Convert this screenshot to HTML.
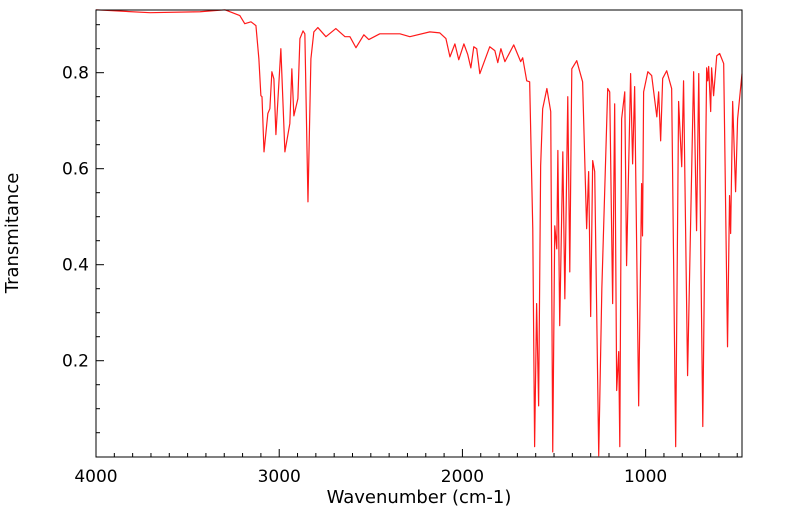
<!DOCTYPE html>
<html><head><meta charset="utf-8"><style>
body{margin:0;background:#fff;}
svg{display:block;font-family:"DejaVu Sans","Liberation Sans",sans-serif;}
</style></head><body>
<svg id="chart" width="799" height="516">
<rect x="0" y="0" width="799" height="516" fill="#fff"/>
<g id="ticks"></g>
<path id="series" fill="none" stroke="#ff1a1a" stroke-width="1.2" stroke-linejoin="round"/>
<rect x="96" y="10" width="646" height="447" fill="none" stroke="#000" stroke-width="1"/>
<text x="18" y="233" font-size="18" text-anchor="middle" transform="rotate(-90 18 233)">Transmitance</text>
<text x="419" y="503" font-size="18" text-anchor="middle">Wavenumber (cm-1)</text>
</svg>
<script>
const wavenumbers=[4000,3705,3432,3296,3215,3188,3154,3127,3111,3100,3094,3083,3062,3051,3040,3029,3018,2991,2969,2942,2931,2920,2898,2887,2870,2860,2843,2827,2811,2789,2745,2691,2641,2614,2581,2538,2511,2451,2341,2287,2178,2124,2090,2068,2041,2020,1992,1971,1954,1938,1922,1905,1851,1823,1807,1790,1768,1720,1682,1671,1649,1633,1616,1606,1595,1584,1573,1562,1539,1518,1507,1496,1485,1479,1469,1452,1441,1425,1414,1403,1376,1344,1322,1311,1300,1289,1278,1256,1239,1207,1196,1180,1169,1158,1147,1141,1131,1114,1104,1082,1071,1060,1038,1022,1017,1011,988,967,939,929,918,907,885,858,836,820,803,793,771,738,722,710,688,667,661,656,645,640,629,612,596,574,553,542,536,525,509,498,474];
const transmittance=[0.931,0.925,0.927,0.931,0.919,0.902,0.906,0.898,0.829,0.752,0.75,0.635,0.715,0.725,0.802,0.787,0.671,0.85,0.635,0.694,0.808,0.71,0.746,0.871,0.887,0.881,0.531,0.829,0.885,0.894,0.875,0.892,0.875,0.875,0.852,0.879,0.869,0.881,0.881,0.875,0.885,0.883,0.871,0.833,0.86,0.827,0.86,0.838,0.81,0.854,0.85,0.798,0.854,0.846,0.821,0.85,0.823,0.858,0.823,0.831,0.783,0.781,0.475,0.021,0.319,0.106,0.606,0.725,0.767,0.719,0.010,0.481,0.433,0.638,0.273,0.635,0.329,0.75,0.385,0.808,0.825,0.781,0.475,0.594,0.292,0.617,0.594,0.002,0.35,0.767,0.76,0.319,0.735,0.138,0.219,0.021,0.704,0.76,0.398,0.798,0.61,0.771,0.106,0.569,0.46,0.76,0.802,0.794,0.708,0.76,0.658,0.788,0.804,0.767,0.021,0.74,0.604,0.783,0.169,0.802,0.471,0.798,0.063,0.81,0.783,0.813,0.719,0.81,0.752,0.835,0.84,0.819,0.229,0.544,0.465,0.74,0.552,0.704,0.798];
const xTickLabels=[4000,3000,2000,1000];
const yTickLabels=[0.2,0.4,0.6,0.8];
const X0=96,X1=742,Y0=10,Y1=457;
const WMAX=4000,WMIN=474,TMIN=-0.0006,TMAX=0.9306;
function xs(w){return X0+(WMAX-w)/(WMAX-WMIN)*(X1-X0);}
function ys(t){return Y1-(t-TMIN)/(TMAX-TMIN)*(Y1-Y0);}
const NS="http://www.w3.org/2000/svg";
let d="";
for(let i=0;i<wavenumbers.length;i++){d+=(i?"L":"M")+xs(wavenumbers[i]).toFixed(2)+","+ys(transmittance[i]).toFixed(2);}
document.getElementById("series").setAttribute("d",d);
const g=document.getElementById("ticks");
function line(x1,y1,x2,y2){const l=document.createElementNS(NS,"line");l.setAttribute("x1",x1);l.setAttribute("y1",y1);l.setAttribute("x2",x2);l.setAttribute("y2",y2);l.setAttribute("stroke","#000");l.setAttribute("stroke-width","1");


g.appendChild(l);}
for(let w=4000;w>=WMIN;w-=100){const x=xs(w);const major=w%1000===0;line(x,Y1,x,Y1-(major?8:4));}
for(let t=0.05;t<TMAX;t+=0.05){const y=ys(t);const major=Math.abs(t*10-Math.round(t*10))<1e-6&&Math.round(t*10)%2===0;line(X0,y,X0+(major?8:4),y);}
xTickLabels.forEach(w=>{const t=document.createElementNS(NS,"text");t.setAttribute("x",xs(w));t.setAttribute("y",482);t.setAttribute("font-size","17");t.setAttribute("text-anchor","middle");t.textContent=w;


g.appendChild(t);});
yTickLabels.forEach(v=>{const t=document.createElementNS(NS,"text");t.setAttribute("x",89);t.setAttribute("y",ys(v)+6);t.setAttribute("font-size","17");t.setAttribute("text-anchor","end");t.textContent=v.toFixed(1);


g.appendChild(t);});
</script>
</body></html>
